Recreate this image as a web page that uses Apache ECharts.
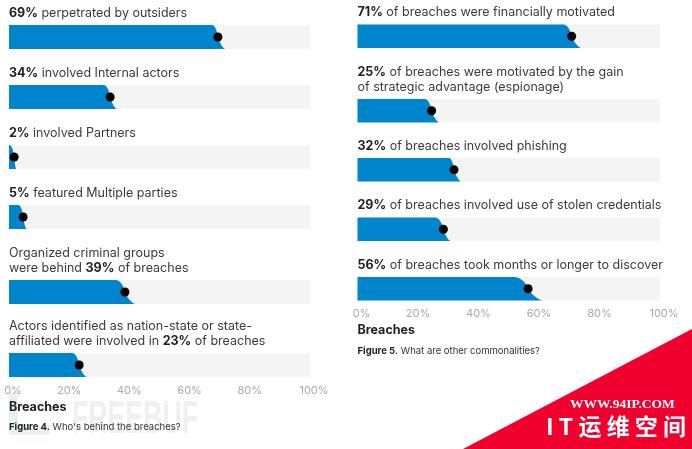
<!DOCTYPE html>
<html>
<head>
<meta charset="utf-8">
<style>html,body{margin:0;padding:0;background:#fff}#main{width:692px;height:449px}</style>
<script src="https://cdn.jsdelivr.net/npm/echarts@6/dist/echarts.min.js"></script>
</head>
<body>
<div id="main"></div>
<script>
// figure 4
let leftLabels = [
    '{b|69%} perpetrated by outsiders',
    '{b|34%} involved Internal actors',
    '{b|2%} involved Partners',
    '{b|5%} featured Multiple parties',
    'Organized criminal groups\nwere behind {b|39%} of breaches',
    'Actors identified as nation-state or state-\naffiliated were involved in {b|23%} of breaches'
];
let leftValues = [69.4, 33.6, 1.7, 4.7, 38.5, 23.3];
let leftLow = [67.3, 31.3, 0, 3, 35.2, 20.8];
let leftHigh = [71.8, 35.8, 2.4, 5.8, 41.9, 25.8];
// figure 5
let rightLabels = [
    '{b|71%} of breaches were financially motivated',
    '{b|25%} of breaches were motivated by the gain\nof strategic advantage (espionage)',
    '{b|32%} of breaches involved phishing',
    '{b|29%} of breaches involved use of stolen credentials',
    '{b|56%} of breaches took months or longer to discover'
];
let rightValues = [70.8, 24.5, 31.9, 28.4, 56.4];
let rightLow = [67.8, 22.1, 30.1, 25.4, 51.3];
let rightHigh = [73.9, 27, 34.2, 30.7, 61.2];
let tickValues = [0, 20, 40, 60, 80, 100];
let tickLabels = ['0%', '20%', '40%', '60%', '80%', '100%'];

// 每行的位置
let panels = [
    {left: 9, width: 301, tops: [25, 85, 145, 205, 280, 353], labelTops: [5.5, 65.5, 125.5, 185.5, 245.5, 319], height: 24,
        labels: leftLabels, values: leftValues, low: leftLow, high: leftHigh},
    {left: 357.5, width: 302.5, tops: [24.5, 99, 158, 217.5, 277], labelTops: [5, 65, 138.5, 197.5, 257.5], height: 23.5,
        labels: rightLabels, values: rightValues, low: rightLow, high: rightHigh}
];

let font = 'Inter';
let grids = [], xAxes = [], yAxes = [], series = [], titles = [];

// 柱子末端的弧形，从 low 经过 value 到 high
function barEnd(low, value, high) {
    let pts = [];
    for (let i = 0; i <= 12; i++) {
        let t = i / 12, c = low + (value - low) * 0.7;
        pts.push([(1 - t) * (1 - t) * low + 2 * t * (1 - t) * c + t * t * value, (1 - t) * (1 - t) + 2 * t * (1 - t) + t * t * 0.5]);
    }
    for (let i = 1; i <= 12; i++) {
        let t = i / 12, c = value + (high - value) * 0.45;
        pts.push([(1 - t) * (1 - t) * value + 2 * t * (1 - t) * c + t * t * high, (1 - t) * (1 - t) * 0.5 + 2 * t * (1 - t) * 0.08]);
    }
    return pts;
}

panels.forEach(function (p) {
    p.values.forEach(function (v, i) {
        let idx = grids.length;
        let last = i === p.values.length - 1;
        grids.push({
            left: p.left, top: p.tops[i], width: p.width, height: p.height,
            show: true, backgroundColor: '#f4f4f4', borderWidth: 0
        });
        xAxes.push({
            type: 'value', gridIndex: idx, min: 0, max: 100, interval: 20,
            axisLine: {show: false}, axisTick: {show: false}, splitLine: {show: false},
            axisLabel: {
                show: last, margin: 8, color: '#a9a9a9', fontFamily: font, fontSize: 11, hideOverlap: false,
                formatter: function (val) {
                    let text = tickLabels[tickValues.indexOf(val)];
                    return val === 0 || val === 100 ? '{edge|' + text + '}' : text;
                },
                rich: {edge: {color: '#a9a9a9', fontFamily: font, fontSize: 11, padding: [0, 0, 0, 8]}}
            }
        });
        yAxes.push({type: 'value', gridIndex: idx, min: 0, max: 1, show: false});
        series.push({
            type: 'custom', xAxisIndex: idx, yAxisIndex: idx, z: 2, silent: true,
            data: [[v, p.low[i], p.high[i]]],
            encode: {x: [0, 1, 2]},
            renderItem: function (params, api) {
                let pts = barEnd(api.value(1), api.value(0), api.value(2));
                let points = [[0, 0], [0, 1]].concat(pts).map(function (d) { return api.coord(d); });
                return {type: 'polygon', shape: {points: points}, style: {fill: '#0085cd'}};
            }
        });
        series.push({
            type: 'scatter', xAxisIndex: idx, yAxisIndex: idx, z: 3, silent: true,
            symbolSize: 9, itemStyle: {color: '#000', opacity: 1},
            data: [[v, 0.5]]
        });
        titles.push({
            text: p.labels[i], left: p.left, top: p.labelTops[i], padding: 0,
            textStyle: {
                color: '#3a3a3a', fontFamily: font, fontSize: 12.5, fontWeight: 400, lineHeight: 15,
                rich: {b: {color: '#222', fontFamily: font, fontSize: 12.5, fontWeight: 700, lineHeight: 15}}
            }
        });
    });
});

// 标题和图注
[[9, 399, 'Breaches'], [357.5, 322.5, 'Breaches']].forEach(function (d) {
    titles.push({
        text: d[2], left: d[0], top: d[1], padding: 0,
        textStyle: {color: '#222', fontFamily: font, fontSize: 12.5, fontWeight: 700, lineHeight: 16}
    });
});
[[9, 421, '{b|Figure 4.} Who\'s behind the breaches?'], [357.5, 345, '{b|Figure 5.} What are other commonalities?']].forEach(function (d) {
    titles.push({
        text: d[2], left: d[0], top: d[1], padding: 0,
        textStyle: {
            color: '#333', fontFamily: font, fontSize: 9.5, fontWeight: 400, lineHeight: 13,
            rich: {b: {color: '#222', fontFamily: font, fontSize: 9.5, fontWeight: 700, lineHeight: 13}}
        }
    });
});

let chart = echarts.init(document.getElementById('main'));
chart.setOption({
    animation: false,
    backgroundColor: '#fff',
    title: titles,
    grid: grids,
    xAxis: xAxes,
    yAxis: yAxes,
    series: series,
    graphic: [
        // 水印
        {type: 'rect', z: -1, shape: {x: 9, y: 392, width: 9, height: 43}, style: {fill: '#e8f2ee'}},
        {type: 'rect', z: -1, shape: {x: 9, y: 425, width: 41, height: 10}, style: {fill: '#e8f2ee'}},
        {type: 'text', z: -1, x: 72, y: 397, scaleX: 0.58, style: {text: 'FREEBUF', fill: '#f0f0f0', fontFamily: 'Liberation Sans', fontWeight: 700, fontSize: 46}},
        // 右下角
        {type: 'polygon', z: 10, shape: {points: [[692, 329], [692, 449], [463, 449]]}, style: {fill: '#f0002d'}},
        {type: 'text', z: 11, x: 570, y: 398, style: {text: 'WWW.94IP.COM', fill: '#fff', fontFamily: 'Liberation Serif', fontWeight: 700, fontSize: 13.5}},
        {type: 'text', z: 11, x: 546, y: 415, style: {text: 'I T 运 维 空 间', fill: '#fff', fontFamily: 'Noto Sans CJK SC', fontWeight: 700, fontSize: 23}}
    ]
});
</script>
</body>
</html>
